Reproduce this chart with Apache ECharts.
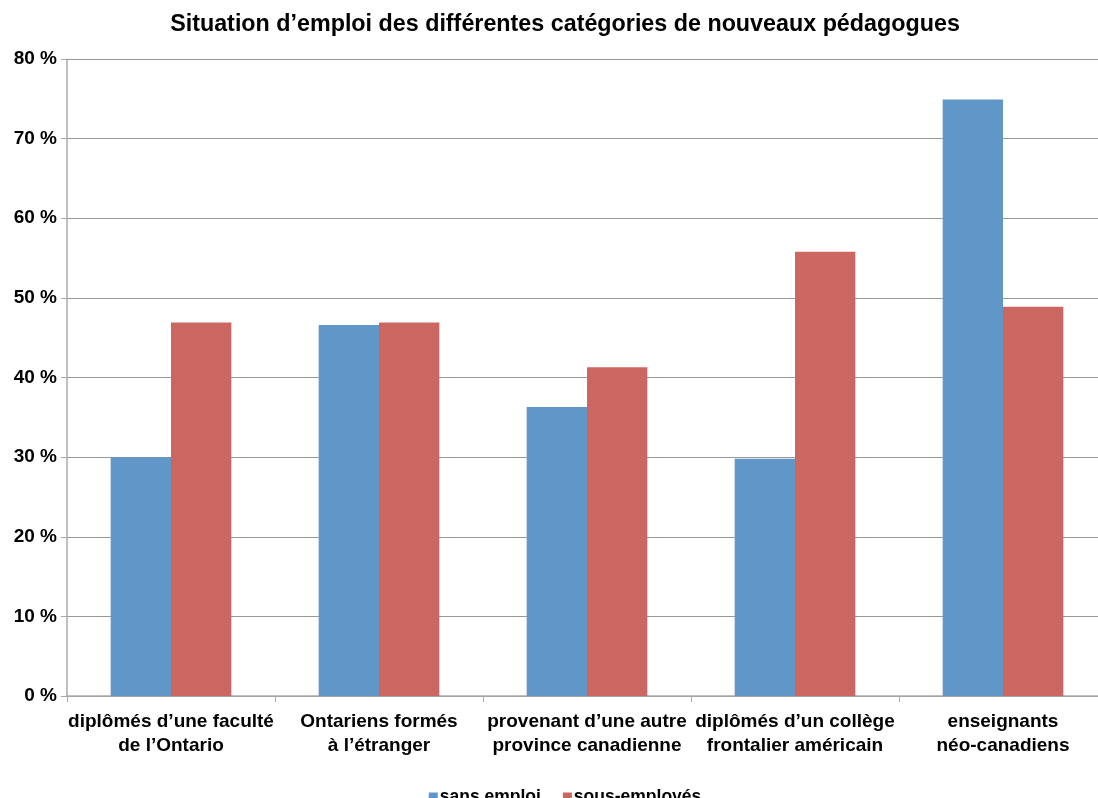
<!DOCTYPE html>
<html>
<head>
<meta charset="utf-8">
<script src="https://cdn.jsdelivr.net/npm/echarts@6/dist/echarts.min.js"></script>
<style>
html, body { margin: 0; padding: 0; background: #fff; overflow: hidden; }
#chart { width: 1130px; height: 798px; }
</style>
</head>
<body>
<div id="chart"></div>
<script>
const categories = [
    "diplômés d’une faculté\nde l’Ontario",
    "Ontariens formés\nà l’étranger",
    "provenant d’une autre\nprovince canadienne",
    "diplômés d’un collège\nfrontalier américain",
    "enseignants\nnéo-canadiens"
]
const sansEmploi = [30.0, 46.6, 36.3, 29.8, 74.9]
const sousEmployes = [46.9, 46.9, 41.3, 55.8, 48.9]
const yTicks = [0, 10, 20, 30, 40, 50, 60, 70, 80]

const font = "'Liberation Sans', Arial, sans-serif"
const myChart = echarts.init(document.getElementById('chart'))
const option = {
    animation: false,
    textStyle: { fontFamily: font },
    title: {
        text: 'Situation d’emploi des différentes catégories de nouveaux pédagogues',
        left: 'center',
        top: 8,
        textStyle: { color: '#000', fontSize: 23.3, fontWeight: 'bold', fontFamily: font }
    },
    legend: {
        top: 783,
        left: 'center',
        itemWidth: 9,
        itemHeight: 9,
        itemGap: 22,
        icon: 'rect',
        textStyle: { color: '#000', fontSize: 17.5, fontWeight: 'bold', fontFamily: font, padding: [0, 0, 0, -3] },
        data: ['sans emploi', 'sous-employés']
    },
    grid: {
        left: 67,
        right: 23,
        top: 59,
        bottom: 102
    },
    xAxis: {
        type: 'category',
        data: categories,
        axisLine: { lineStyle: { color: '#aaa', width: 1.5 } },
        axisTick: { show: true, lineStyle: { color: '#aaa' }, length: 6 },
        axisLabel: { color: '#000', fontSize: 19, fontWeight: 'bold', fontFamily: font, lineHeight: 24, margin: 14, interval: 0 }
    },
    yAxis: {
        type: 'value',
        min: yTicks[0],
        max: yTicks[yTicks.length - 1],
        interval: 10,
        axisLine: { show: true, lineStyle: { color: '#aaa', width: 1.5 } },
        axisTick: { show: true, lineStyle: { color: '#aaa' }, length: 6 },
        splitLine: { lineStyle: { color: '#999', width: 1 } },
        axisLabel: { color: '#000', fontSize: 19, fontWeight: 'bold', fontFamily: font, margin: 10, padding: [6, 0, 0, 0], formatter: '{value} %' }
    },
    series: [
        {
            name: 'sans emploi',
            type: 'bar',
            data: sansEmploi,
            barGap: '0%',
            barCategoryGap: '42%',
            itemStyle: { color: '#6196c9' }
        },
        {
            name: 'sous-employés',
            type: 'bar',
            data: sousEmployes,
            itemStyle: { color: '#cc6660' }
        }
    ]
}
myChart.setOption(option)
</script>
</body>
</html>
